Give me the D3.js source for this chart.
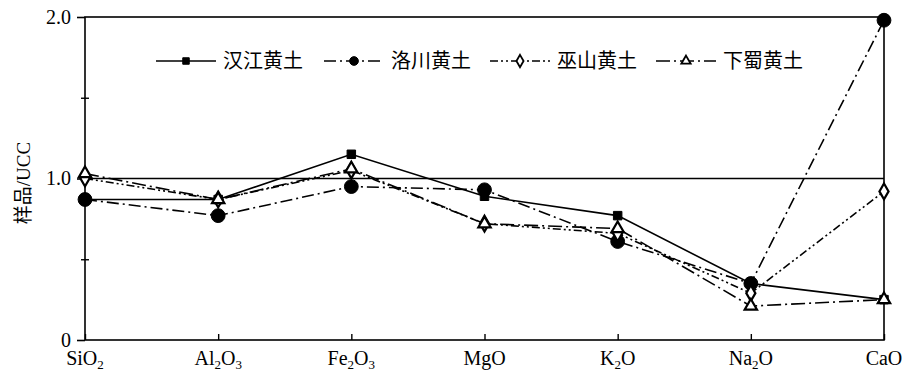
<!DOCTYPE html>
<html>
<head>
<meta charset="utf-8">
<script src="https://cdn.jsdelivr.net/npm/d3@7"></script>
<style>
  body { margin: 0; background: #fff; }
  svg text { font-family: "Liberation Serif", "Noto Sans CJK SC", serif; fill: #000; }
</style>
</head>
<body>
<svg id="chart" width="924" height="384"></svg>
<script>
// oxides on the x axis: [base, subscript digit] pairs
var categories = ["SiO2", "Al2O3", "Fe2O3", "MgO", "K2O", "Na2O", "CaO"];
var catLabels = [
  [["Si", ""], ["O", "2"]],
  [["Al", "2"], ["O", "3"]],
  [["Fe", "2"], ["O", "3"]],
  [["MgO", ""]],
  [["K", "2"], ["O", ""]],
  [["Na", "2"], ["O", ""]],
  [["CaO", ""]]
];
var seriesNames = ["汉江黄土", "洛川黄土", "巫山黄土", "下蜀黄土"];
var hanjiang = [0.87, 0.87, 1.15, 0.89, 0.77, 0.35, 0.25];
var luochuan = [0.87, 0.77, 0.95, 0.93, 0.61, 0.35, 1.98];
var wushan   = [1.00, 0.87, 1.05, 0.72, 0.66, 0.29, 0.92];
var xiashu   = [1.03, 0.87, 1.06, 0.72, 0.69, 0.21, 0.25];
var yTicks = [0, 1, 2];
var yMinor = [0.5, 1.5];
var yTitle = "样品/UCC";

var svg = d3.select("#chart");

var margin = { left: 85, right: 40, top: 17, bottom: 44 };
var W = 924, H = 384;

var x = d3.scalePoint()
    .domain(categories)
    .range([margin.left, W - margin.right]);

var y = d3.scaleLinear()
    .domain([0, 2])
    .range([H - margin.bottom, margin.top]);

// frame
svg.append("rect")
    .attr("x", x.range()[0])
    .attr("y", y(2))
    .attr("width", x.range()[1] - x.range()[0])
    .attr("height", y(0) - y(2))
    .attr("fill", "none")
    .attr("stroke", "#000")
    .attr("stroke-width", 1.6);

// reference line at 1.0
svg.append("line")
    .attr("x1", x.range()[0]).attr("x2", x.range()[1])
    .attr("y1", y(1)).attr("y2", y(1))
    .attr("stroke", "#000")
    .attr("stroke-width", 1.3);

// y axis, major ticks
var yAxisG = svg.append("g")
    .attr("transform", "translate(" + x.range()[0] + ",0)")
    .call(d3.axisLeft(y)
        .tickValues(yTicks)
        .tickSize(8)
        .tickPadding(6)
        .tickFormat(function(d){ return d === 0 ? "0" : d3.format(".1f")(d); }));
yAxisG.select(".domain").remove();
yAxisG.selectAll(".tick line").attr("stroke-width", 1.6);
yAxisG.selectAll(".tick text")
    .style("font-family", "'Liberation Serif', serif")
    .style("font-size", "20px");

// y axis, minor ticks crossing the axis
var yMinorG = svg.append("g")
    .attr("transform", "translate(" + (x.range()[0] + 4) + ",0)")
    .call(d3.axisLeft(y).tickValues(yMinor).tickSize(8).tickFormat(""));
yMinorG.select(".domain").remove();
yMinorG.selectAll(".tick line").attr("stroke-width", 1.4);

// y title
svg.append("text")
    .attr("transform", "translate(30," + 183 + ") rotate(-90)")
    .attr("text-anchor", "middle")
    .style("font-size", "19px")
    .text(yTitle);

// x axis ticks (inward)
var xAxisG = svg.append("g")
    .attr("transform", "translate(0," + y(0) + ")")
    .call(d3.axisBottom(x).tickSize(-6).tickFormat(""));
xAxisG.select(".domain").remove();
xAxisG.selectAll(".tick line").attr("stroke-width", 1.4);

// x labels with subscripts
categories.forEach(function(c, i){
    var t = svg.append("text")
        .attr("x", x(c))
        .attr("y", y(0) + 25)
        .attr("text-anchor", "middle")
        .style("font-size", "20px");
    var shift = 0;
    catLabels[i].forEach(function(part){
        t.append("tspan").attr("dy", -shift).text(part[0]);
        shift = 0;
        if (part[1]) {
            t.append("tspan")
                .attr("dy", 4)
                .style("font-size", "13px")
                .text(part[1]);
            shift = 4;
        }
    });
});

// series
var series = [
    { name: seriesNames[0], values: hanjiang, dash: null,              symbol: d3.symbolSquare,   size: 72,  fill: "#000", lsize: 42 },
    { name: seriesNames[1], values: luochuan, dash: "12,4,2,4",        symbol: d3.symbolCircle,   size: 150, fill: "#000", lsize: 60 },
    { name: seriesNames[2], values: wushan,   dash: "8,3,2,3,2,3",     symbol: d3.symbolDiamond,  size: 72,  fill: "#fff", lsize: 44 },
    { name: seriesNames[3], values: xiashu,   dash: "14,4,2,4",        symbol: d3.symbolTriangle, size: 66,  fill: "#fff", lsize: 38 }
];

var line = d3.line()
    .x(function(d, i){ return x(categories[i]); })
    .y(function(d){ return y(d); });

series.forEach(function(s){
    svg.append("path")
        .attr("d", line(s.values))
        .attr("fill", "none")
        .attr("stroke", "#000")
        .attr("stroke-width", 1.6)
        .attr("stroke-dasharray", s.dash);
});

series.forEach(function(s){
    svg.selectAll(null)
        .data(s.values)
        .enter().append("path")
        .attr("transform", function(d, i){ return "translate(" + x(categories[i]) + "," + y(d) + ")"; })
        .attr("d", d3.symbol().type(s.symbol).size(s.size))
        .attr("fill", s.fill)
        .attr("stroke", "#000")
        .attr("stroke-width", s.fill === "#fff" ? 2.2 : 1);
});

// legend
var legendX = [156, 324, 490, 656];
var legendY = 61;
series.forEach(function(s, i){
    var g = svg.append("g").attr("transform", "translate(" + legendX[i] + "," + legendY + ")");
    g.append("line")
        .attr("x1", 0).attr("x2", 60)
        .attr("y1", 0).attr("y2", 0)
        .attr("stroke", "#000")
        .attr("stroke-width", 1.6)
        .attr("stroke-dasharray", s.dash);
    g.append("path")
        .attr("transform", "translate(30,0)")
        .attr("d", d3.symbol().type(s.symbol).size(s.lsize))
        .attr("fill", s.fill)
        .attr("stroke", "#000")
        .attr("stroke-width", s.fill === "#fff" ? 1.8 : 1);
    g.append("text")
        .attr("x", 67)
        .attr("y", 0)
        .attr("dy", "0.36em")
        .style("font-size", "20px")
        .text(s.name);
});
</script>
</body>
</html>
